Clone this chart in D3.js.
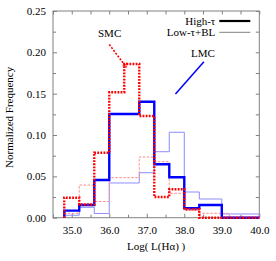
<!DOCTYPE html>
<html>
<head>
<meta charset="utf-8">
<script src="https://cdn.jsdelivr.net/npm/d3@7"></script>
<style>
  body { margin: 0; background: #fff; }
  svg text { font-family: "Liberation Serif", "DejaVu Serif", serif; font-size: 11px; fill: #000; }
</style>
</head>
<body>
<div class="chart"></div>
<script>
var width = 276;
var height = 261;

var margin = { "top": 11,
               "bottom": 43.3,
               "left": 53,
               "right": 16.7 };

// bin edges (log L(Halpha))
var edgesSMC = [34.8, 35.2, 35.6, 36.0, 36.4, 36.8, 37.2, 37.6, 38.0, 38.4, 38.8, 39.2, 39.6, 40.0];
var edgesLMC = [34.8, 35.2, 35.6, 36.0, 36.4, 36.8, 37.2, 37.6, 38.0, 38.4, 39.0, 40.0];

// normalized frequencies
var highTauSMC = [0.0242, 0.016, 0.0786, 0.1517, 0.1859, 0.123, 0.025, 0.0345, 0.0102, 0, 0, 0, 0];
var lowTauSMC  = [0.0053, 0.0395, 0.0196, 0.0484, 0.0484, 0.0734, 0.0677, 0.0295, 0.009, 0.0053, 0.0053, 0, 0];
var highTauLMC = [0.0085, 0.0154, 0.0456, 0.1254, 0.1254, 0.1403, 0.0646, 0.0489, 0.0114, 0.0154, 0];
var lowTauLMC  = [0.003, 0.0126, 0.0051, 0.042, 0.042, 0.0544, 0.0798, 0.1033, 0.0311, 0.0226, 0.0045];

var xTicks = [35, 36, 37, 38, 39, 40];
var xMinor = [34.5, 35.5, 36.5, 37.5, 38.5, 39.5];
var yTicks = [0, 0.05, 0.10, 0.15, 0.20, 0.25];
var yMinor = [0.025, 0.075, 0.125, 0.175, 0.225];

var legendLabels = ["High-\u03c4", "Low-\u03c4+BL"];

// annotations in data units
var notes = [
  { "label": "SMC", "tx": 36.01, "ty": 0.219, "x1": 36.0, "y1": 0.2095, "x2": 36.45, "y2": 0.1823, "color": "#ff0000", "dash": "2,1.5" },
  { "label": "LMC", "tx": 38.5, "ty": 0.194, "x1": 37.765, "y1": 0.1496, "x2": 38.523, "y2": 0.1887, "color": "#0000ff", "dash": null }
];

var innerW = width - margin.left - margin.right;
var innerH = height - margin.top - margin.bottom;

var svg = d3.select(".chart")
              .append("svg")
              .attr("width", width)
              .attr("height", height)
              .append("g")
              .attr("transform", "translate(" + margin.left + "," + margin.top + ")");

var scaleX = d3.scaleLinear().domain([34.5, 40]).range([0, innerW]);
var scaleY = d3.scaleLinear().domain([0, 0.25]).range([innerH, 0]);

// ticks inside the frame, on all four sides
function drawAxes() {
  var tickColor = "#808080";

  svg.append("g")
      .attr("class", "axis")
      .attr("transform", "translate(0," + innerH + ")")
      .call(d3.axisBottom(scaleX).tickValues(xTicks).tickSizeInner(-4).tickSizeOuter(0)
             .tickPadding(8.5).tickFormat(d3.format(".1f")));
  svg.append("g")
      .attr("class", "axis")
      .attr("transform", "translate(0," + innerH + ")")
      .call(d3.axisBottom(scaleX).tickValues(xMinor).tickSizeInner(-3).tickSizeOuter(0).tickFormat(""));
  svg.append("g")
      .attr("class", "axis")
      .call(d3.axisTop(scaleX).tickValues(xTicks.concat(xMinor)).tickSizeInner(-3.5).tickSizeOuter(0).tickFormat(""));

  svg.append("g")
      .attr("class", "axis")
      .call(d3.axisLeft(scaleY).tickValues(yTicks).tickSizeInner(-4).tickSizeOuter(0)
             .tickPadding(7).tickFormat(d3.format(".2f")));
  svg.append("g")
      .attr("class", "axis")
      .call(d3.axisLeft(scaleY).tickValues(yMinor).tickSizeInner(-3).tickSizeOuter(0).tickFormat(""));
  svg.append("g")
      .attr("class", "axis")
      .attr("transform", "translate(" + innerW + ",0)")
      .call(d3.axisRight(scaleY).tickValues(yTicks.concat(yMinor)).tickSizeInner(-3.5).tickSizeOuter(0).tickFormat(""));

  svg.selectAll(".domain").remove();
  svg.selectAll(".axis").attr("font-family", null).attr("font-size", null);
  svg.selectAll(".tick line").attr("stroke", tickColor);

  svg.append("rect")
      .attr("x", 0)
      .attr("y", 0)
      .attr("width", innerW)
      .attr("height", innerH)
      .attr("fill", "none")
      .attr("stroke", tickColor)
      .attr("stroke-width", 1);
}

function stepPoints(edges, values) {
  var pts = [[edges[0], 0]];
  values.forEach(function(v, i) { pts.push([edges[i], v]); });
  pts.push([edges[edges.length - 1], 0]);
  return pts;
}

var stepLine = d3.line()
                 .x(function(d) { return scaleX(d[0]) })
                 .y(function(d) { return scaleY(d[1]) })
                 .curve(d3.curveStepAfter);

function drawHist(edges, values, color, widthPx, dash) {
  svg.append("path")
      .attr("d", stepLine(stepPoints(edges, values)))
      .attr("fill", "none")
      .attr("stroke", color)
      .attr("stroke-width", widthPx)
      .attr("stroke-dasharray", dash);
}

drawAxes();

drawHist(edgesLMC, lowTauLMC, "#8c8cff", 1, null);
drawHist(edgesSMC, lowTauSMC, "#ff8c8c", 1, "2.5,1.5");
drawHist(edgesLMC, highTauLMC, "#0000ff", 2.4, null);
drawHist(edgesSMC, highTauSMC, "#ff0000", 2.4, "1.8,1.3");

// annotations
notes.forEach(function(n) {
  svg.append("text")
      .attr("x", scaleX(n.tx))
      .attr("y", scaleY(n.ty))
      .attr("text-anchor", "middle")
      .text(n.label);
  svg.append("line")
      .attr("x1", scaleX(n.x1))
      .attr("y1", scaleY(n.y1))
      .attr("x2", scaleX(n.x2))
      .attr("y2", scaleY(n.y2))
      .attr("stroke", n.color)
      .attr("stroke-width", n.dash ? 1.6 : 1.5)
      .attr("stroke-dasharray", n.dash);
});

// small arrow head at the SMC pointer
(function() {
  var n = notes[0];
  var ex = scaleX(n.x2), ey = scaleY(n.y2);
  svg.append("path")
      .attr("d", "M" + (ex - 3.5) + "," + (ey - 1.5) + "L" + ex + "," + ey + "L" + (ex + 0.5) + "," + (ey - 4.5))
      .attr("fill", "none")
      .attr("stroke", n.color)
      .attr("stroke-width", 1.2)
      .attr("stroke-dasharray", "2,1");
})();

// legend
var legend = svg.append("g").attr("transform", "translate(" + (innerW - 44) + ",10)");
legendLabels.forEach(function(lab, i) {
  var yy = i * 11.3;
  legend.append("text")
      .attr("x", 0)
      .attr("y", yy + 3.8)
      .attr("text-anchor", "end")
      .text(lab);
  legend.append("line")
      .attr("x1", 4)
      .attr("x2", 35)
      .attr("y1", yy)
      .attr("y2", yy)
      .attr("stroke", i === 0 ? "#000" : "#808080")
      .attr("stroke-width", i === 0 ? 2.2 : 1);
});

// axis labels
svg.append("text")
    .attr("x", innerW / 2)
    .attr("y", innerH + 32)
    .attr("text-anchor", "middle")
    .text("Log( L(H\u03b1) )");

svg.append("text")
    .attr("transform", "rotate(270)")
    .attr("x", -(innerH / 2) - 3)
    .attr("y", -40)
    .attr("text-anchor", "middle")
    .text("Normalized Frequency");
</script>
</body>
</html>
